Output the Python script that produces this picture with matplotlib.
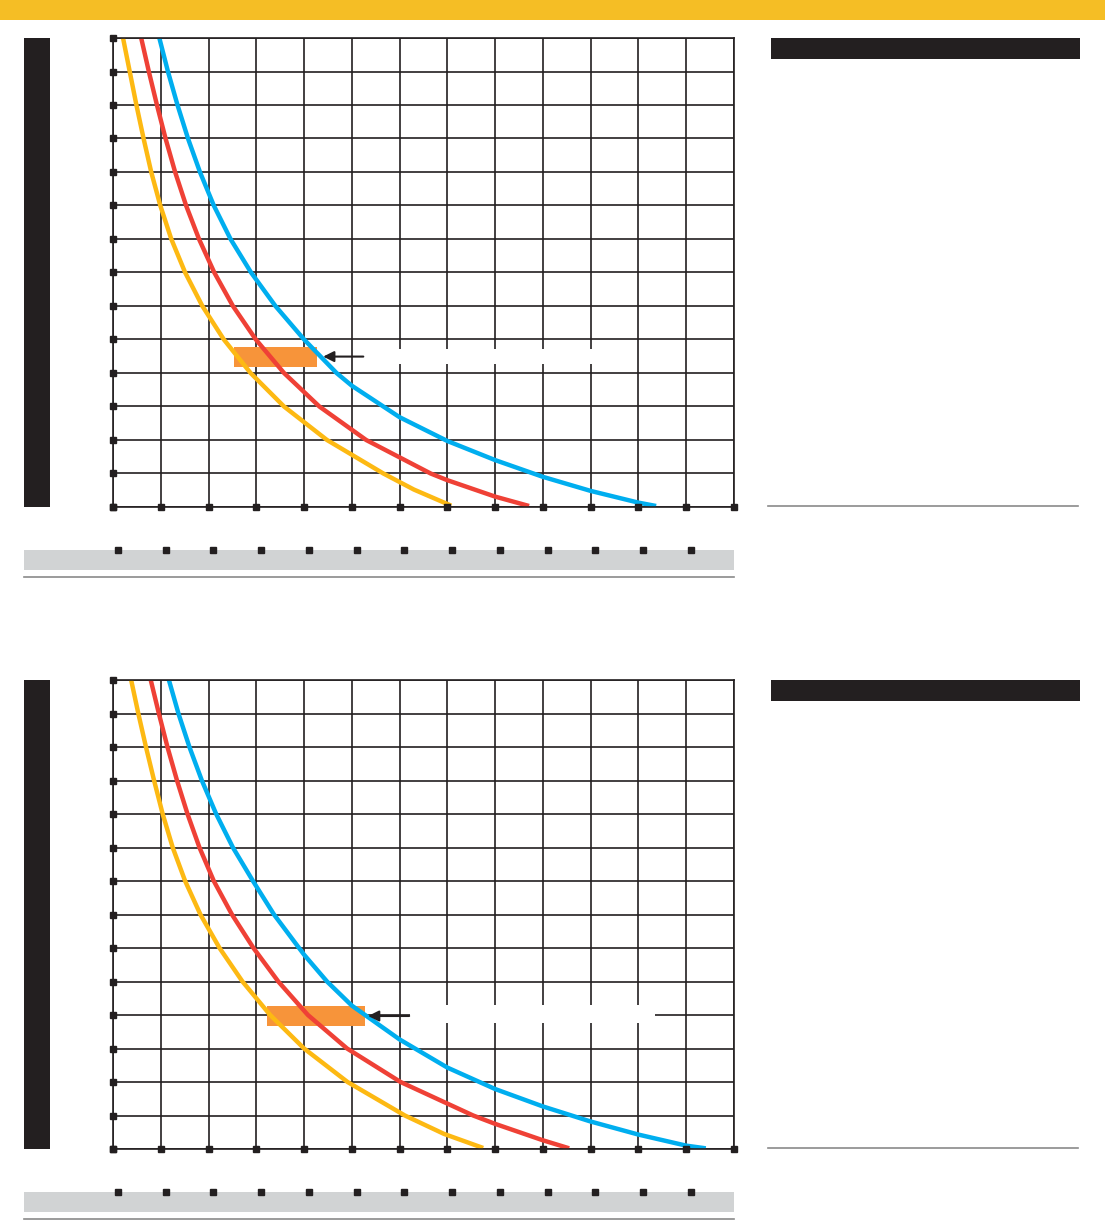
import numpy as np
import matplotlib
matplotlib.use("Agg")
import matplotlib.pyplot as plt
from matplotlib.patches import Rectangle
from matplotlib.lines import Line2D

W, H = 1105, 1220

# grid / tick positions (chart units)
x_ticks = np.arange(0, 14)
y_ticks = np.arange(0, 15)
band_ticks = np.arange(0, 13) + 0.1

# curves - top chart
top_yellow_x = [0.21, 0.35, 0.49, 0.64, 0.80, 0.99, 1.22, 1.51, 1.87, 2.32, 2.88, 3.58, 4.48, 5.66, 6.30, 7.08]
top_yellow_y = [14, 13, 12, 11, 10, 9, 8, 7, 6, 5, 4, 3, 2, 1, 0.52, 0.04]
top_red_x = [0.59, 0.75, 0.92, 1.10, 1.30, 1.53, 1.80, 2.12, 2.51, 2.99, 3.58, 4.32, 5.30, 6.65, 7.0, 8.0, 8.71]
top_red_y = [14, 13, 12, 11, 10, 9, 8, 7, 6, 5, 4, 3, 2, 1, 0.80, 0.31, 0.03]
top_blue_x = [0.97, 1.15, 1.35, 1.57, 1.82, 2.11, 2.46, 2.89, 3.40, 4.00, 4.68, 5.0, 6.0, 7.0, 8.0, 9.0, 10.0, 11.0, 11.37]
top_blue_y = [14, 13, 12, 11, 10, 9, 8, 7, 6, 5, 4, 3.62, 2.68, 1.97, 1.40, 0.90, 0.48, 0.13, 0.03]

# bottom chart
bot_yellow_x = [0.38, 0.53, 0.69, 0.86, 1.04, 1.25, 1.51, 1.83, 2.23, 2.71, 3.29, 4.00, 4.91, 6.11, 6.93, 7.75]
bot_yellow_y = [14, 13, 12, 11, 10, 9, 8, 7, 6, 5, 4, 3, 2, 1, 0.45, 0.03]
bot_red_x = [0.79, 0.96, 1.14, 1.34, 1.56, 1.81, 2.11, 2.49, 2.94, 3.46, 4.08, 4.90, 6.02, 7.54, 8.0, 9.0, 9.55]
bot_red_y = [14, 13, 12, 11, 10, 9, 8, 7, 6, 5, 4, 3, 2, 1, 0.75, 0.26, 0.02]
bot_blue_x = [1.17, 1.37, 1.60, 1.86, 2.16, 2.51, 2.93, 3.37, 4.0, 4.48, 5.0, 6.0, 7.0, 8.0, 9.0, 10.0, 11.0, 12.0, 12.41]
bot_blue_y = [14, 13, 12, 11, 10, 9, 8, 7, 5.80, 5.0, 4.28, 3.27, 2.43, 1.79, 1.27, 0.82, 0.43, 0.10, 0.02]

# highlight boxes (x0, x1, y0, y1) and arrows (x_from, x_to, y)
top_box = (2.53, 4.27, 4.19, 4.77)
top_arrow = (5.24, 4.40, 4.49)
top_gap = (5.35, 10.2, 4.27, 4.72)
bot_box = (3.22, 5.27, 3.67, 4.27)
bot_arrow = (6.20, 5.34, 3.97)
bot_gap = (6.21, 11.34, 3.76, 4.30)

DARK = "#231F20"
YELLOW = "#FDB913"
RED = "#EF4136"
BLUE = "#00AEEF"
ORANGE = "#F7943A"


def frac(x0, y0, x1, y1):
    return [x0 / W, 1 - y1 / H, (x1 - x0) / W, (y1 - y0) / H]


def fig_rect(fig, x0, y0, x1, y1, color):
    fig.patches.append(Rectangle((x0 / W, 1 - y1 / H), (x1 - x0) / W, (y1 - y0) / H,
                                 transform=fig.transFigure, color=color, lw=0))


def fig_hline(fig, x0, x1, y, color, lw):
    fig.lines.append(Line2D([x0 / W, x1 / W], [1 - y / H, 1 - y / H],
                            transform=fig.transFigure, color=color, lw=lw))


def draw_panel(fig, off, curves, box, arrow, gap):
    ax = fig.add_axes(frac(113, 38 + off, 734, 507 + off))
    ax.set_xlim(0, 13)
    ax.set_ylim(0, 14)
    ax.set_xticks(x_ticks)
    ax.set_yticks(y_ticks)
    ax.tick_params(length=0, labelbottom=False, labelleft=False)
    ax.set_axisbelow(True)
    ax.grid(True, color=DARK, lw=1.2)
    for s in ax.spines.values():
        s.set_color(DARK)
        s.set_linewidth(1.2)

    # white gap where the grid is cut
    ax.add_patch(Rectangle((gap[0], gap[2]), gap[1] - gap[0], gap[3] - gap[2],
                           facecolor="white", edgecolor="none", zorder=1))
    ax.add_patch(Rectangle((box[0], box[2]), box[1] - box[0], box[3] - box[2],
                           facecolor=ORANGE, edgecolor="none", zorder=1.5))

    for (xs, ys), c in zip(curves, [YELLOW, RED, BLUE]):
        ax.plot(xs, ys, color=c, lw=3.2, solid_capstyle="butt",
                solid_joinstyle="round", zorder=2)

    ax.annotate("", xy=(arrow[1], arrow[2]), xytext=(arrow[0], arrow[2]),
                arrowprops=dict(arrowstyle="-|>", color=DARK, lw=1.5, mutation_scale=16,
                                shrinkA=0, shrinkB=0), zorder=4)

    ax.plot(np.zeros(len(y_ticks)), y_ticks, "s", color=DARK, ms=5, clip_on=False, zorder=5)
    ax.plot(x_ticks, np.zeros(len(x_ticks)), "s", color=DARK, ms=5, clip_on=False, zorder=5)

    # grey band under the chart with its own tick marks
    band = fig.add_axes(frac(24, 550 + off, 734, 570 + off))
    band.set_xlim((24 - 113) / (621 / 13), 13)
    band.set_ylim(0, 1)
    band.set_facecolor("#D1D3D4")
    band.set_xticks([])
    band.set_yticks([])
    for s in band.spines.values():
        s.set_visible(False)
    band.plot(band_ticks, np.ones(len(band_ticks)), "s", color=DARK, ms=5, clip_on=False)

    fig_rect(fig, 24, 38 + off, 50, 507 + off, DARK)
    fig_rect(fig, 771, 38 + off, 1080, 59 + off, DARK)
    fig_hline(fig, 768, 1078, 506 + off, "#8A8A8A", 1.2)
    fig_hline(fig, 24, 734, 577 + off, "#8A8A8A", 1.2)


fig = plt.figure(figsize=(W / 100, H / 100), dpi=100)
fig_rect(fig, 0, 0, W, 20, "#F5BE25")

draw_panel(fig, 0,
           [(top_yellow_x, top_yellow_y), (top_red_x, top_red_y), (top_blue_x, top_blue_y)],
           top_box, top_arrow, top_gap)
draw_panel(fig, 642,
           [(bot_yellow_x, bot_yellow_y), (bot_red_x, bot_red_y), (bot_blue_x, bot_blue_y)],
           bot_box, bot_arrow, bot_gap)

fig.savefig("out.png", dpi=100)
